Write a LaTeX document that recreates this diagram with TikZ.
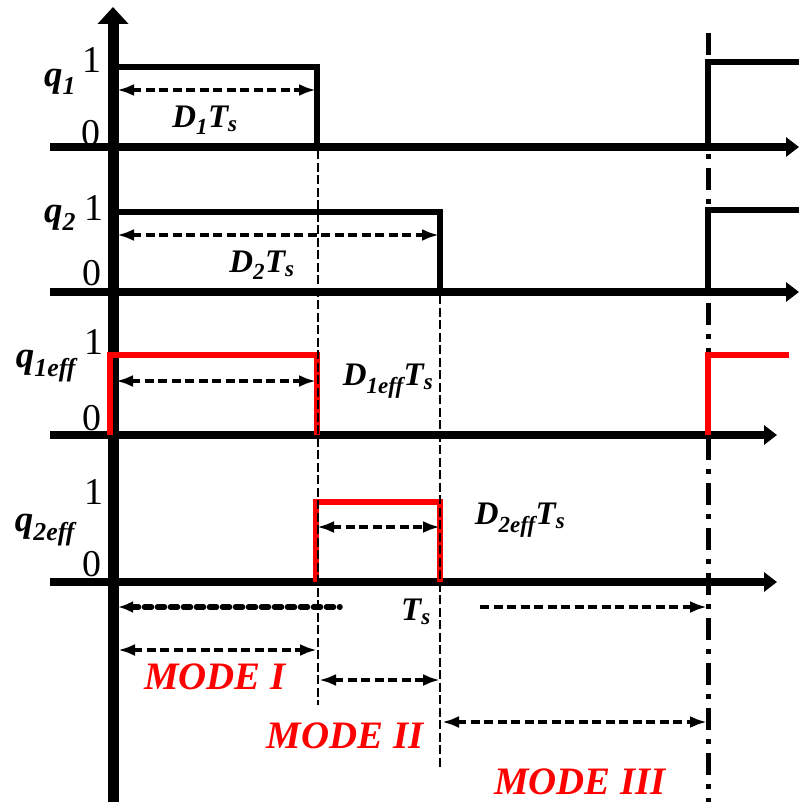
\documentclass[tikz,border=0pt]{standalone}
\usepackage{fontspec}
\setmainfont{Liberation Serif}
\usetikzlibrary{arrows.meta}
\begin{document}
\begin{tikzpicture}[x=1bp,y=-1bp,
  mainaxis/.style={line width=11bp,-{Triangle[length=17bp,width=30bp]}},
  haxis/.style={line width=8bp,-{Triangle[length=13bp,width=19bp]}},
  pulse/.style={line width=5.5bp,line join=miter},
  redpulse/.style={red,line width=6bp,line join=miter},
  dim/.style={line width=4.2bp,dash pattern=on 9bp off 4.5bp,{Latex[length=17bp,width=12bp]}-{Latex[length=17bp,width=12bp]}},
  dimr/.style={line width=4.2bp,dash pattern=on 9bp off 4.5bp,-{Latex[length=17bp,width=12bp]}},
  tsl/.style={line width=5.5bp,line cap=round,dash pattern=on 7bp off 6bp,{Latex[length=15bp,width=12bp]}-},
  guide/.style={line width=1.3bp,dash pattern=on 9bp off 3.5bp},
  dashdot/.style={line width=5bp,dash pattern=on 22bp off 9bp on 5bp off 9bp},
  qlbl/.style={font=\fontsize{37}{38}\selectfont\bfseries\itshape,inner sep=0pt},
  lbl/.style={font=\fontsize{33}{34}\selectfont\bfseries\itshape,inner sep=0pt},
  num/.style={font=\fontsize{38}{38}\selectfont,inner sep=0pt},
  modelbl/.style={font=\fontsize{39}{40}\selectfont\bfseries\itshape,text=red,inner sep=0pt}]
\useasboundingbox (0,0) rectangle (799,802);
% key coordinates
\coordinate (s1) at (50,147); \coordinate (e1) at (799,147);
\coordinate (s2) at (50,292); \coordinate (e2) at (799,292);
\coordinate (s3) at (50,435); \coordinate (e3) at (777,435);
\coordinate (s4) at (50,582); \coordinate (e4) at (777,582);
% dash-dot line (period boundary)
\coordinate (ddt) at (708,33); \coordinate (ddb) at (708,802);
\draw[dashdot] (ddt) -- (ddb);
% main vertical axis
\coordinate (vb) at (113,802); \coordinate (vt) at (113,7);
\draw[mainaxis] (vb) -- (vt);
% horizontal axes
\draw[haxis] (s1) -- (e1);
\draw[haxis] (s2) -- (e2);
\draw[haxis] (s3) -- (e3);
\draw[haxis] (s4) -- (e4);
% q1 pulse
\draw[pulse] (113,67) -- (317,67) -- (317,147);
\draw[pulse] (708,147) -- (708,62) -- (799,62);
% q2 pulse
\draw[pulse] (113,212) -- (440,212) -- (440,292);
\draw[pulse] (708,292) -- (708,210) -- (799,210);
% q1eff pulse
\draw[redpulse] (110,435) -- (110,355) -- (317,355) -- (317,435);
\draw[redpulse] (708,435) -- (708,355) -- (789,355);
% q2eff pulse
\draw[redpulse] (316,582) -- (316,502) -- (440,502) -- (440,582);
% guides
\coordinate (g1t) at (318,150); \coordinate (g1b) at (318,705);
\coordinate (g2t) at (440,295); \coordinate (g2b) at (440,770);
\draw[guide] (g1t) -- (g1b);
\draw[guide] (g2t) -- (g2b);
% dimension arrows
\draw[dim] (117,90) -- (316,90);
\draw[dim] (117,235) -- (439,235);
\draw[dim] (116,381) -- (316,381);
\draw[dim] (317,527) -- (440,527);
\draw[tsl] (118,607) -- (340,607);
\draw[dimr] (480,607) -- (707,607);
\draw[dim] (118,650) -- (317,650);
\draw[dim] (319,680) -- (440,680);
\draw[dim] (442,722) -- (707,722);
% labels
\node[qlbl] (lq1) at (60,82) {q\textsubscript{1}};
\node[qlbl] (lq2) at (60,218) {q\textsubscript{2}};
\node[qlbl] (lq3) at (46,366) {q\textsubscript{1eff}};
\node[qlbl] (lq4) at (45,530) {q\textsubscript{2eff}};
\node[num] (n11) at (92,60) {1};
\node[num] (n10) at (91,133) {0};
\node[num] (n21) at (94,208) {1};
\node[num] (n20) at (92,273) {0};
\node[num] (n31) at (94,342) {1};
\node[num] (n30) at (92,418) {0};
\node[num] (n41) at (94,492) {1};
\node[num] (n40) at (92,564) {0};
\node[lbl] (d1) at (205,120) {D\textsubscript{1}T\textsubscript{s}};
\node[lbl] (d2) at (262,265) {D\textsubscript{2}T\textsubscript{s}};
\node[lbl] (d3) at (388,381) {D\textsubscript{1eff}T\textsubscript{s}};
\node[lbl] (d4) at (520,520) {D\textsubscript{2eff}T\textsubscript{s}};
\node[lbl] (ts) at (416,612) {T\textsubscript{s}};
\node[modelbl] (m1) at (215,677) {MODE I};
\node[modelbl] (m2) at (345,736) {MODE II};
\node[modelbl] (m3) at (580,782) {MODE III};
\end{tikzpicture}
\end{document}
